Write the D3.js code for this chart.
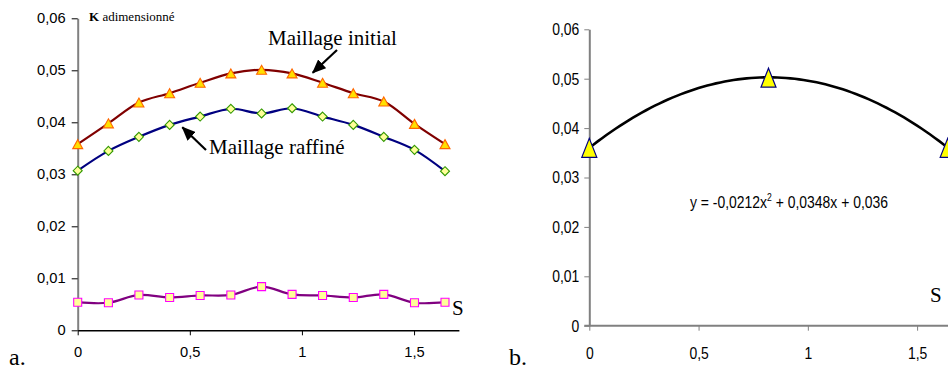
<!DOCTYPE html>
<html>
<head>
<meta charset="utf-8">
<script src="https://cdn.jsdelivr.net/npm/d3@7"></script>
<style>
  body { margin: 0; background: #fff; }
  svg { display: block; }
</style>
</head>
<body>
<div id="wrapper"></div>
<script>
// positions along the front (adimensional)
const positions = [0, 0.137, 0.273, 0.41, 0.546, 0.683, 0.82, 0.956, 1.092, 1.229, 1.365, 1.502, 1.638]
const kInitial = [0.0358, 0.0398, 0.0438, 0.0456, 0.0476, 0.0494, 0.0501, 0.0494, 0.0476, 0.0456, 0.044, 0.0397, 0.0358]
const kRefined = [0.0307, 0.0345, 0.0372, 0.0395, 0.0411, 0.0426, 0.0417, 0.0427, 0.0411, 0.0395, 0.0372, 0.0347, 0.0306]
const kS = [0.0054, 0.0053, 0.0068, 0.0063, 0.0067, 0.0068, 0.0084, 0.0069, 0.0067, 0.0063, 0.0069, 0.0053, 0.0054]

// chart b: three points and the quadratic trendline shown
const fitPositions = [0, 0.82, 1.64]
const fitValues = [0.036, 0.0502, 0.036]
const trendCoefs = [-0.0212, 0.0348, 0.036]

const yTicks = [0, 0.01, 0.02, 0.03, 0.04, 0.05, 0.06]
const xTicks = [0, 0.5, 1, 1.5]

const fr = d3.formatLocale({ decimal: ',', thousands: ' ', grouping: [3], currency: ['', ''] })
const fmt = fr.format('~g')

const width = 948
const height = 369
const sans = '"Liberation Sans", Arial, sans-serif'
const serif = '"Liberation Serif", "Times New Roman", serif'

const svg = d3.select('#wrapper').append('svg').attr('width', width).attr('height', height)

const defs = svg.append('defs')
defs.append('marker')
  .attr('id', 'arrow')
  .attr('markerUnits', 'userSpaceOnUse')
  .attr('viewBox', '0 0 14 12')
  .attr('markerWidth', 14)
  .attr('markerHeight', 12)
  .attr('refX', 13)
  .attr('refY', 6)
  .attr('orient', 'auto')
  .append('path')
  .attr('d', 'M0,0 L14,6 L0,12 Z')
  .attr('fill', '#000')

// stretch / squeeze text horizontally (the source picture is not at 1:1)
function squeeze(texts, sx) {
  texts.each(function () {
    const t = d3.select(this)
    const x = +t.attr('x') || 0
    t.attr('x', x / sx).attr('transform', `scale(${sx},1)`)
  })
}

const triangle = (w, h) => `M0,${-h / 2}L${w / 2},${h / 2}L${-w / 2},${h / 2}Z`
const diamond = (r) => `M0,${-r}L${r},0L0,${r}L${-r},0Z`
const square = (s) => `M${-s / 2},${-s / 2}h${s}v${s}h${-s}Z`

// ---------- chart a ----------
const xA = d3.scaleLinear().domain([0, 1.7]).range([77.7, 458.9])
const yA = d3.scaleLinear().domain([0, 0.06]).range([330.3, 18.3])

const gA = svg.append('g')

const yAxisA = gA.append('g')
  .attr('transform', `translate(${xA(0)},0)`)
  .call(d3.axisLeft(yA).tickValues(yTicks).tickFormat(fmt).tickSize(6).tickSizeOuter(0).tickPadding(6))
yAxisA.select('.domain').attr('stroke', '#808080').attr('stroke-width', 2)
yAxisA.selectAll('.tick line').attr('stroke', '#000')
yAxisA.selectAll('text').attr('font-family', sans).attr('font-size', 14).attr('fill', '#000')
squeeze(yAxisA.selectAll('text'), 1.05)

const xAxisA = gA.append('g')
  .attr('transform', `translate(0,${yA(0)})`)
  .call(d3.axisBottom(xA).tickValues(xTicks).tickFormat(fmt).tickSize(5).tickSizeOuter(0).tickPadding(12))
xAxisA.select('.domain').attr('stroke', '#000').attr('stroke-width', 1.5)
xAxisA.selectAll('.tick line').attr('stroke', '#000')
xAxisA.selectAll('text').attr('font-family', sans).attr('font-size', 14).attr('fill', '#000')
squeeze(xAxisA.selectAll('text'), 1.05)

const smooth = d3.line()
  .x((d, i) => xA(positions[i]))
  .y((d) => yA(d))
  .curve(d3.curveCatmullRom.alpha(0.5))

const seriesA = [
  { values: kInitial, line: '#800000', marker: triangle(10, 9), fill: '#FFE000', stroke: '#FF6600' },
  { values: kRefined, line: '#000080', marker: diamond(4.5), fill: '#FFFF99', stroke: '#339900' },
  { values: kS, line: '#800080', marker: square(8), fill: '#FFFF99', stroke: '#FF00FF' },
]

seriesA.forEach((s) => {
  gA.append('path')
    .attr('d', smooth(s.values))
    .attr('fill', 'none')
    .attr('stroke', s.line)
    .attr('stroke-width', 2.2)
  gA.append('g')
    .selectAll('path')
    .data(s.values)
    .join('path')
    .attr('transform', (d, i) => `translate(${xA(positions[i])},${yA(d)})`)
    .attr('d', s.marker)
    .attr('fill', s.fill)
    .attr('stroke', s.stroke)
    .attr('stroke-width', 1.1)
})

const titleA = gA.append('text')
  .attr('x', 89)
  .attr('y', 21)
  .attr('font-family', serif)
  .attr('font-size', 13)
titleA.append('tspan').attr('font-weight', 'bold').text('K')
titleA.append('tspan').text(' adimensionné')

gA.append('text')
  .attr('x', 268)
  .attr('y', 45)
  .attr('font-family', serif)
  .attr('font-size', 21)
  .text('Maillage initial')
gA.append('line')
  .attr('x1', 337).attr('y1', 50).attr('x2', 312.7).attr('y2', 72.7)
  .attr('stroke', '#000').attr('stroke-width', 2.2)
  .attr('marker-end', 'url(#arrow)')

gA.append('text')
  .attr('x', 209)
  .attr('y', 154)
  .attr('font-family', serif)
  .attr('font-size', 21)
  .text('Maillage raffiné')
gA.append('line')
  .attr('x1', 206).attr('y1', 150).attr('x2', 182.3).attr('y2', 127.3)
  .attr('stroke', '#000').attr('stroke-width', 2.2)
  .attr('marker-end', 'url(#arrow)')

gA.append('text')
  .attr('x', 452)
  .attr('y', 315)
  .attr('font-family', serif)
  .attr('font-size', 21)
  .text('S')

svg.append('text')
  .attr('x', 9)
  .attr('y', 365)
  .attr('font-family', serif)
  .attr('font-size', 24)
  .text('a.')

// ---------- chart b ----------
const xB = d3.scaleLinear().domain([0, 1.7]).range([589.3, 960.8])
const yB = d3.scaleLinear().domain([0, 0.06]).range([325.7, 29.3])

const gB = svg.append('g')

const yAxisB = gB.append('g')
  .attr('transform', `translate(${xB(0)},0)`)
  .call(d3.axisLeft(yB).tickValues(yTicks).tickFormat(fmt).tickSize(5).tickSizeOuter(0).tickPadding(5))
yAxisB.selectAll('.domain, .tick line').attr('stroke', '#808080')
yAxisB.select('.domain').attr('stroke-width', 2)
yAxisB.selectAll('text').attr('font-family', sans).attr('font-size', 17).attr('fill', '#000')
squeeze(yAxisB.selectAll('text'), 0.82)

const xAxisB = gB.append('g')
  .attr('transform', `translate(0,${yB(0)})`)
  .call(d3.axisBottom(xB).tickValues(xTicks).tickFormat(fmt).tickSize(5).tickSizeOuter(0).tickPadding(16))
xAxisB.selectAll('.domain, .tick line').attr('stroke', '#808080')
xAxisB.select('.domain').attr('stroke-width', 2).attr('d', `M${xB(0) - 5},0H${xB(1.7)}`)
xAxisB.selectAll('text').attr('font-family', sans).attr('font-size', 17).attr('fill', '#000')
squeeze(xAxisB.selectAll('text'), 0.82)

const trend = (x) => trendCoefs[0] * x * x + trendCoefs[1] * x + trendCoefs[2]
const trendX = d3.range(0, 1.64 + 1e-9, 0.02)
gB.append('path')
  .attr('d', d3.line().x((d) => xB(d)).y((d) => yB(trend(d)))(trendX))
  .attr('fill', 'none')
  .attr('stroke', '#000')
  .attr('stroke-width', 2.6)

gB.append('g')
  .selectAll('path')
  .data(fitValues)
  .join('path')
  .attr('transform', (d, i) => `translate(${xB(fitPositions[i])},${yB(d)})`)
  .attr('d', triangle(15, 19))
  .attr('fill', '#FFFF00')
  .attr('stroke', '#000080')
  .attr('stroke-width', 1.2)

const eq = gB.append('text')
  .attr('x', 690)
  .attr('y', 208)
  .attr('font-family', sans)
  .attr('font-size', 17)
eq.append('tspan').text('y = -0,0212x')
eq.append('tspan').attr('font-size', 10.5).attr('dy', -7).text('2')
eq.append('tspan').attr('dy', 7).text(' + 0,0348x + 0,036')
squeeze(eq, 0.82)

gB.append('text')
  .attr('x', 930)
  .attr('y', 302)
  .attr('font-family', serif)
  .attr('font-size', 21)
  .text('S')

svg.append('text')
  .attr('x', 509)
  .attr('y', 365)
  .attr('font-family', serif)
  .attr('font-size', 24)
  .text('b.')
</script>
</body>
</html>
